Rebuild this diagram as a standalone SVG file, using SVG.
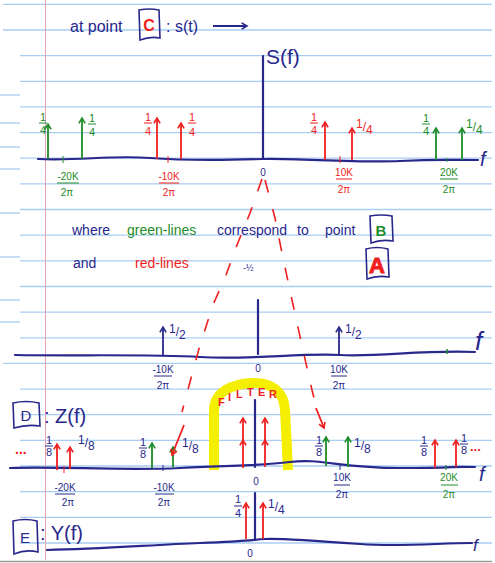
<svg xmlns="http://www.w3.org/2000/svg" width="495" height="563" viewBox="0 0 495 563">
<style>
text{font-family:"Liberation Sans","DejaVu Sans",sans-serif}
.paper line{stroke:#a9cdf2;stroke-width:1.3}
.N text{fill:#28288c}.N path,.N line{stroke:#28288c;fill:none}
.R text{fill:#f01e1e}.R path,.R line{stroke:#f01e1e;fill:none}
.G text{fill:#1e8c28}.G path,.G line{stroke:#1e8c28;fill:none}
.ax{stroke:#28288c;stroke-width:2.2;fill:none;stroke-linecap:round}
.ar{stroke:#f01e1e;stroke-width:1.8;marker-end:url(#hr)}
.ag{stroke:#1e8c28;stroke-width:1.8;marker-end:url(#hg)}
.ab{stroke:#28288c;stroke-width:1.8;marker-end:url(#hb)}
.dash{stroke:#f01e1e;stroke-width:1.6;fill:none;stroke-dasharray:13 17}
.fr{font-size:11px;text-anchor:middle}
.sl{font-size:12px}
.lb{font-size:10px;text-anchor:middle}
.box{stroke:#28288c;stroke-width:1.6;fill:none}
</style>
<defs>
<marker id="hr" viewBox="0 0 10 10" refX="8" refY="5" markerWidth="9" markerHeight="9" markerUnits="userSpaceOnUse" orient="auto"><path d="M2,1.5 L8,5 L2,8.5" fill="none" stroke="#f01e1e" stroke-width="1.8"/></marker>
<marker id="hg" viewBox="0 0 10 10" refX="8" refY="5" markerWidth="9" markerHeight="9" markerUnits="userSpaceOnUse" orient="auto"><path d="M2,1.5 L8,5 L2,8.5" fill="none" stroke="#1e8c28" stroke-width="1.8"/></marker>
<marker id="hb" viewBox="0 0 10 10" refX="8" refY="5" markerWidth="9" markerHeight="9" markerUnits="userSpaceOnUse" orient="auto"><path d="M2,1.5 L8,5 L2,8.5" fill="none" stroke="#28288c" stroke-width="1.8"/></marker>
</defs>
<rect width="495" height="563" fill="#ffffff"/>
<g id="paper" class="paper">
<line x1="3" y1="4.3" x2="492" y2="4.3"/><line x1="3" y1="30" x2="492" y2="30"/>
<line x1="20" y1="55.6" x2="492" y2="55.6"/><line x1="20" y1="81.3" x2="492" y2="81.3"/>
<line x1="20" y1="106.9" x2="492" y2="106.9"/><line x1="20" y1="132.6" x2="492" y2="132.6"/>
<line x1="20" y1="158.2" x2="492" y2="158.2"/><line x1="20" y1="183.9" x2="492" y2="183.9"/>
<line x1="20" y1="209.5" x2="492" y2="209.5"/><line x1="20" y1="235.2" x2="492" y2="235.2"/>
<line x1="20" y1="260.8" x2="492" y2="260.8"/><line x1="20" y1="286.5" x2="492" y2="286.5"/>
<line x1="20" y1="312.1" x2="492" y2="312.1"/><line x1="20" y1="337.8" x2="492" y2="337.8"/>
<line x1="3" y1="363.4" x2="492" y2="363.4"/><line x1="20" y1="389.1" x2="492" y2="389.1"/>
<line x1="20" y1="414.7" x2="492" y2="414.7"/><line x1="20" y1="440.4" x2="492" y2="440.4"/>
<line x1="20" y1="466" x2="492" y2="466"/><line x1="20" y1="491.7" x2="492" y2="491.7"/>
<line x1="20" y1="517.3" x2="492" y2="517.3"/><line x1="20" y1="543" x2="492" y2="543"/>
<line x1="0" y1="95" x2="20" y2="95"/><line x1="0" y1="123" x2="20" y2="123"/>
<line x1="0" y1="147" x2="20" y2="147"/><line x1="0" y1="169" x2="20" y2="169"/>
<line x1="0" y1="213" x2="20" y2="213"/><line x1="0" y1="257" x2="20" y2="257"/>
<line x1="0" y1="300" x2="20" y2="300"/><line x1="0" y1="322" x2="20" y2="322"/>
<line x1="45.5" y1="0" x2="45.5" y2="560" style="stroke:#e7a3ad;stroke-width:1"/>
<line x1="0" y1="561.5" x2="492" y2="561.5" style="stroke:#9a9a9a;stroke-width:1.5"/>
</g>

<g id="title" class="N">
<text x="70" y="32" font-size="16">at point</text>
<path class="box" d="M139,10 Q149,8 159,10 L160,38 Q150,36 140,40 Z"/>
<text x="149" y="31" font-size="16" font-weight="bold" text-anchor="middle" style="fill:#f01e1e">C</text>
<text x="166" y="32" font-size="16">: s(t)</text>
<line x1="213" y1="26" x2="247" y2="26" class="ab"/>
</g>

<g id="plot-C">
<text x="266" y="64" font-size="21" style="fill:#28288c">S(f)</text>
<path class="ax" d="M263,56 L263,159"/>
<path class="ax" d="M38,159 C80,161 110,155 150,158 S230,160 262,159 S360,163 400,161 S450,160 478,160"/>
<text x="480" y="166" font-size="20" font-style="italic" style="fill:#28288c">f</text>
<g class="N"><text x="263" y="176" class="lb" font-size="11">0</text></g>
<g class="G">
<line class="ag" x1="48" y1="159" x2="48" y2="124"/>
<line class="ag" x1="82" y1="159" x2="82" y2="118"/>
<line class="ag" x1="436" y1="160" x2="436" y2="128"/>
<line class="ag" x1="462" y1="160" x2="462" y2="128"/>
<text class="fr" x="43" y="121">1</text><path d="M39,123h8"/><text class="fr" x="43" y="134">4</text>
<text class="fr" x="92" y="122">1</text><path d="M88,124h8"/><text class="fr" x="92" y="136">4</text>
<text class="fr" x="426" y="122">1</text><path d="M422,124h8"/><text class="fr" x="426" y="135">4</text>
<text class="sl" x="466" y="128">1<tspan dy="3">/</tspan><tspan dy="3">4</tspan></text>
<path d="M63,156v7"/><path d="M447,158v4"/>
<text class="lb" x="68" y="180">-20K</text><path d="M57,183h22"/><text class="lb" x="67" y="196">2π</text>
<text class="lb" x="449" y="176">20K</text><path d="M440,179h18"/><text class="lb" x="449" y="193">2π</text>
</g>
<g class="R">
<line class="ar" x1="157" y1="159" x2="157" y2="118"/>
<line class="ar" x1="181" y1="159" x2="181" y2="123"/>
<line class="ar" x1="325" y1="160" x2="325" y2="122"/>
<line class="ar" x1="352" y1="160" x2="352" y2="128"/>
<text class="fr" x="148" y="121">1</text><path d="M144,123h8"/><text class="fr" x="148" y="135">4</text>
<text class="fr" x="192" y="121">1</text><path d="M188,123h8"/><text class="fr" x="192" y="136">4</text>
<text class="fr" x="314" y="121">1</text><path d="M310,123h8"/><text class="fr" x="314" y="134">4</text>
<text class="sl" x="356" y="128">1<tspan dy="3">/</tspan><tspan dy="3">4</tspan></text>
<path d="M168,156v7"/><path d="M340,156v7"/>
<text class="lb" x="169" y="180">-10K</text><path d="M159,183h20"/><text class="lb" x="169" y="196">2π</text>
<text class="lb" x="344" y="176">10K</text><path d="M336,179h16"/><text class="lb" x="344" y="193">2π</text>
</g>
</g>

<g id="legend">
<text x="72" y="235" font-size="14" style="fill:#28288c">where</text>
<text x="127" y="235" font-size="14" style="fill:#1e8c28">green-lines</text>
<text x="217" y="235" font-size="14" style="fill:#28288c">correspond</text>
<text x="297" y="235" font-size="14" style="fill:#28288c">to</text>
<text x="325" y="235" font-size="14" style="fill:#28288c">point</text>
<path class="box" d="M370,216 Q381,214 392,216 L393,241 Q381,239 371,243 Z"/>
<text x="381" y="236" font-size="15" font-weight="bold" text-anchor="middle" style="fill:#1e8c28">B</text>
<text x="73" y="268" font-size="14" style="fill:#28288c">and</text>
<text x="135" y="268" font-size="14" style="fill:#f01e1e">red-lines</text>
<text x="243" y="271" font-size="9" style="fill:#28288c">-½</text>
<path class="box" d="M366,249 Q377,246 388,249 L389,277 Q377,275 367,279 Z"/>
<text x="377" y="273" font-size="22" font-weight="bold" text-anchor="middle" style="fill:#f01e1e;stroke:#f01e1e;stroke-width:1">A</text>
</g>

<g id="plot-B">
<path class="ax" d="M258,300 L258,354"/>
<path class="ax" d="M15,355 C80,356 150,354 200,357 S300,353 340,355 S420,350 475,352"/>
<text x="475" y="350" font-size="26" font-style="italic" style="fill:#28288c">f</text>
<path d="M447,349v5" stroke="#1e8c28" stroke-width="1.5"/>
<g class="N">
<line class="ab" x1="163" y1="355" x2="163" y2="327"/>
<line class="ab" x1="339" y1="355" x2="339" y2="327"/>
<text class="sl" x="169" y="333">1<tspan dy="3">/</tspan><tspan dy="3">2</tspan></text>
<text class="sl" x="345" y="333">1<tspan dy="3">/</tspan><tspan dy="3">2</tspan></text>
<text class="lb" x="163" y="373">-10K</text><path d="M154,376h18"/><text class="lb" x="163" y="389">2π</text>
<text class="lb" x="258" y="372" font-size="11">0</text>
<text class="lb" x="339" y="373">10K</text><path d="M331,376h16"/><text class="lb" x="339" y="389">2π</text>
</g>
</g>

<g id="filter">
<path d="M214,470 L214,410 C214,392 232,384 252,383 C272,382 284,392 285,410 L288,470" fill="none" stroke="#f4ef00" stroke-width="10"/>
<text font-size="11" font-weight="bold" style="fill:#f01e1e" x="218 228 236 247 258 269" y="406 401 398 396 396 398">FILTER</text>
</g>

<g id="plot-D">
<path class="box" d="M13,403 Q26,400 39,403 L40,426 Q27,424 14,428 Z"/>
<text x="26" y="421" font-size="15" text-anchor="middle" style="fill:#28288c">D</text>
<text x="44" y="423" font-size="20" style="fill:#28288c">: Z(f)</text>
<text x="15" y="454" font-size="14" font-weight="bold" style="fill:#f01e1e">...</text>
<path class="ax" d="M255,400 L255,467"/>
<path class="ax" d="M10,468 C60,466 120,471 180,468 S260,466 290,462 S340,468 400,468 S450,466 475,467"/>
<text x="479" y="481" font-size="20" font-style="italic" style="fill:#28288c">f</text>
<g class="R">
<line class="ar" x1="57" y1="470" x2="57" y2="444"/>
<line class="ar" x1="70" y1="469" x2="70" y2="447"/>
<path class="ar" d="M243,468 L243,440 L243,418" style="marker-mid:url(#hr)"/>
<path class="ar" d="M265,467 L265,440 L265,418" style="marker-mid:url(#hr)"/>
<line class="ar" x1="435" y1="468" x2="435" y2="440"/>
<line class="ar" x1="456" y1="467" x2="456" y2="440"/>
<path d="M64,466v7"/>
<text x="470" y="451" font-size="13" font-weight="bold">...</text>
</g>
<g class="N">
<text class="fr" x="49" y="444">1</text><path d="M45,446h8"/><text class="fr" x="49" y="456">8</text>
<text class="sl" x="78" y="444">1<tspan dy="3">/</tspan><tspan dy="3">8</tspan></text>
<text class="fr" x="143" y="446">1</text><path d="M139,448h8"/><text class="fr" x="143" y="458">8</text>
<text class="sl" x="182" y="447">1<tspan dy="3">/</tspan><tspan dy="3">8</tspan></text>
<text class="fr" x="319" y="444">1</text><path d="M315,446h8"/><text class="fr" x="319" y="456">8</text>
<text class="sl" x="354" y="447">1<tspan dy="3">/</tspan><tspan dy="3">8</tspan></text>
<text class="fr" x="424" y="444">1</text><path d="M420,446h8"/><text class="fr" x="424" y="456">8</text>
<text class="fr" x="464" y="442">1</text><path d="M460,444h8"/><text class="fr" x="464" y="454">8</text>
<path d="M163,465v6"/><path d="M340,464v6"/>
<text class="lb" x="65" y="491">-20K</text><path d="M55,494h20"/><text class="lb" x="68" y="506">2π</text>
<text class="lb" x="164" y="491">-10K</text><path d="M155,494h19"/><text class="lb" x="164" y="506">2π</text>
<text class="lb" x="256" y="485" font-size="11">0</text>
<text class="lb" x="342" y="481">10K</text><path d="M334,485h16"/><text class="lb" x="342" y="498">2π</text>
</g>
<g class="G">
<line class="ag" x1="152" y1="468" x2="152" y2="443"/>
<line class="ag" x1="173" y1="467" x2="173" y2="447"/>
<line class="ag" x1="326" y1="466" x2="326" y2="437"/>
<line class="ag" x1="348" y1="467" x2="348" y2="437"/>
<path d="M446,465v5"/>
<text class="lb" x="449" y="481">20K</text><path d="M441,485h17"/><text class="lb" x="449" y="498">2π</text>
</g>
</g>

<g id="plot-E">
<path class="box" d="M13,521 Q25,518 37,521 L38,552 Q26,549 14,554 Z"/>
<text x="25" y="543" font-size="15" text-anchor="middle" style="fill:#28288c">E</text>
<text x="40" y="540" font-size="20" style="fill:#28288c">: Y(f)</text>
<path class="ax" d="M255,493 L255,540"/>
<path class="ax" d="M47,550 C100,549 150,545 200,543 S250,540 265,539 S320,541 360,544 S440,543 472,543"/>
<text x="473" y="551" font-size="17" font-style="italic" style="fill:#28288c">f</text>
<g class="R">
<line class="ar" x1="246" y1="539" x2="246" y2="503"/>
<line class="ar" x1="263" y1="539" x2="263" y2="503"/>
</g>
<g class="N">
<text class="fr" x="238" y="503">1</text><path d="M234,506h8"/><text class="fr" x="238" y="517">4</text>
<text class="sl" x="268" y="508">1<tspan dy="3">/</tspan><tspan dy="3">4</tspan></text>
<text class="lb" x="250" y="557" font-size="11">0</text>
</g>
</g>

<g id="connectors">
<path class="dash" d="M262,179 L250,213 L237,245 L226,275 L213,305 L200,345 L190,382 L182,412"/>
<line class="ar" x1="184" y1="425" x2="172" y2="455"/>
<path class="dash" d="M265,180 L275,218 L283,258 L292,300 L303,350 L312,390 L315,402"/>
<line class="ar" x1="316" y1="408" x2="324" y2="428"/>
</g>
</svg>
